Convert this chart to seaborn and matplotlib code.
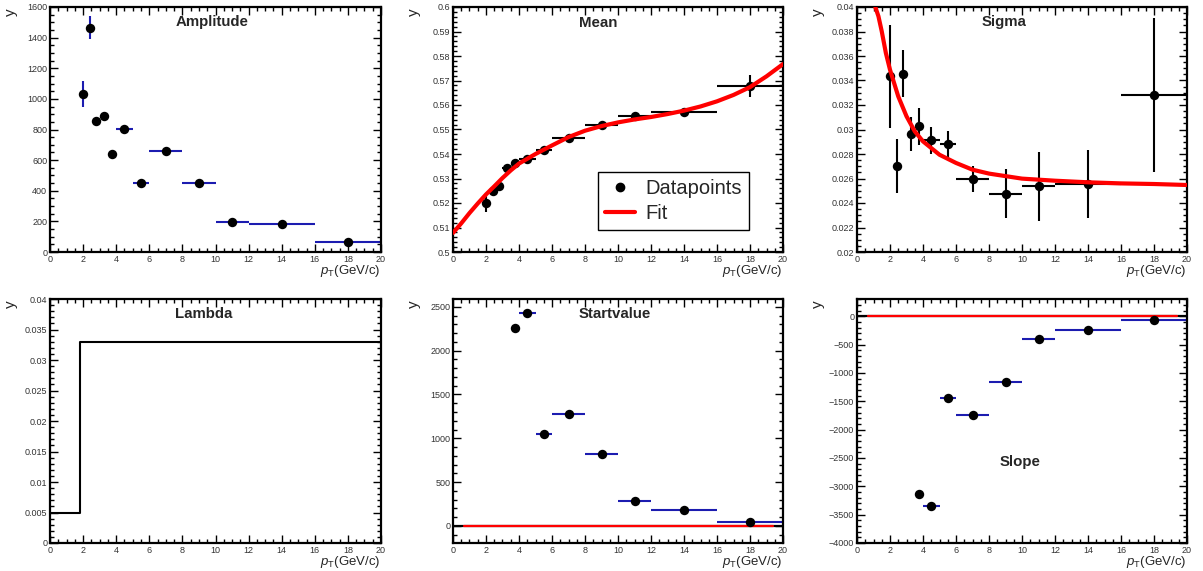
import matplotlib
matplotlib.use("Agg")
import matplotlib.pyplot as plt
import seaborn as sns
from matplotlib.lines import Line2D
from matplotlib.ticker import FixedLocator, FixedFormatter, MultipleLocator

# ---------------- data ----------------
pt = [2.0, 2.4, 2.8, 3.25, 3.75, 4.5, 5.5, 7.0, 9.0, 11.0, 14.0, 18.0]
pt_err = [0.2, 0.2, 0.2, 0.25, 0.25, 0.5, 0.5, 1.0, 1.0, 1.0, 2.0, 2.0]

amplitude = [1030, 1465, 858, 890, 642, 806, 450, 657, 450, 198, 186, 68]
amplitude_err = [85, 76, 25, 25, 15, 12, 10, 8, 8, 6, 6, 5]

mean = [0.5200, 0.5248, 0.5271, 0.5342, 0.5365, 0.5381, 0.5415, 0.5467, 0.5520, 0.5554, 0.5571, 0.5679]
mean_err = [0.0038, 0.0012, 0.0012, 0.0012, 0.0010, 0.0010, 0.0008, 0.0008, 0.0008, 0.0014, 0.0016, 0.0045]
mean_fit_x = [0, 0.5, 1, 1.5, 2, 2.5, 3, 3.5, 4, 5, 6, 7, 8, 9, 10, 11, 12, 13, 14, 15, 16, 17, 18, 19, 20]
mean_fit_y = [0.5078, 0.5117, 0.5159, 0.5198, 0.5235, 0.5268, 0.5302, 0.5333, 0.5361, 0.5400,
              0.5435, 0.5469, 0.5495, 0.5514, 0.5529, 0.5541, 0.5551, 0.5563, 0.5577, 0.5594,
              0.5615, 0.5641, 0.5673, 0.5717, 0.5767]

sigma = [0.03434, 0.02700, 0.03456, 0.02963, 0.03026, 0.02911, 0.02879, 0.02596, 0.02476, 0.02536, 0.02555, 0.03282]
sigma_err = [0.0042, 0.0022, 0.0019, 0.0014, 0.0015, 0.0011, 0.0011, 0.0011, 0.0020, 0.0028, 0.0028, 0.0063]
sigma_fit_x = [1.11, 1.3, 1.5, 1.75, 2, 2.5, 3, 3.5, 4, 5, 6, 7, 8, 10, 12, 14, 16, 18, 20]
sigma_fit_y = [0.0400, 0.03924, 0.03801, 0.03624, 0.03488, 0.0327, 0.03108, 0.02985, 0.02903, 0.02794,
               0.02727, 0.02672, 0.0264, 0.02599, 0.02582, 0.02569, 0.0256, 0.02555, 0.02547]

lambda_x = [0.0, 1.8, 20.0]
lambda_y = [0.005, 0.033, 0.033]

pt_late = [3.75, 4.5, 5.5, 7.0, 9.0, 11.0, 14.0, 18.0]
pt_late_err = [0.25, 0.5, 0.5, 1.0, 1.0, 1.0, 2.0, 2.0]
startvalue = [2264, 2428, 1046, 1275, 826, 285, 179, 50]
startvalue_err = [10, 10, 8, 8, 6, 5, 5, 4]
slope = [-3139, -3356, -1441, -1745, -1154, -392, -240, -64]
slope_err = [15, 12, 10, 8, 8, 6, 5, 5]

zero_fit_x = [0.65, 19.4]
zero_fit_y = [0.0, 0.0]

x_ticks = [0, 2, 4, 6, 8, 10, 12, 14, 16, 18, 20]
x_ticklabels = ["0", "2", "4", "6", "8", "10", "12", "14", "16", "18", "20"]
amp_ticks = [0, 200, 400, 600, 800, 1000, 1200, 1400, 1600]
amp_labels = ["0", "200", "400", "600", "800", "1000", "1200", "1400", "1600"]
mean_ticks = [0.5, 0.51, 0.52, 0.53, 0.54, 0.55, 0.56, 0.57, 0.58, 0.59, 0.6]
mean_labels = ["0.5", "0.51", "0.52", "0.53", "0.54", "0.55", "0.56", "0.57", "0.58", "0.59", "0.6"]
sigma_ticks = [0.02, 0.022, 0.024, 0.026, 0.028, 0.03, 0.032, 0.034, 0.036, 0.038, 0.04]
sigma_labels = ["0.02", "0.022", "0.024", "0.026", "0.028", "0.03", "0.032", "0.034", "0.036", "0.038", "0.04"]
lambda_ticks = [0, 0.005, 0.01, 0.015, 0.02, 0.025, 0.03, 0.035, 0.04]
lambda_labels = ["0", "0.005", "0.01", "0.015", "0.02", "0.025", "0.03", "0.035", "0.04"]
start_ticks = [0, 500, 1000, 1500, 2000, 2500]
start_labels = ["0", "500", "1000", "1500", "2000", "2500"]
slope_ticks = [0, -500, -1000, -1500, -2000, -2500, -3000, -3500, -4000]
slope_labels = ["0", "\u2212500", "\u22121000", "\u22121500", "\u22122000", "\u22122500",
                "\u22123000", "\u22123500", "\u22124000"]

titles = ["Amplitude", "Mean", "Sigma", "Lambda", "Startvalue", "Slope"]

# ---------------- style ----------------
sns.set_style("white")
plt.rcParams["font.family"] = ["Liberation Sans", "DejaVu Sans"]
plt.rcParams["mathtext.fontset"] = "custom"
plt.rcParams["mathtext.rm"] = "Liberation Sans"
plt.rcParams["mathtext.it"] = "Liberation Sans:italic"

W, H = 1203, 571
fig = plt.figure(figsize=(W / 100, H / 100), dpi=100)
fig.patch.set_facecolor("white")

cols = [(50, 381), (453, 783), (857, 1187)]
rows = [(7, 252), (299, 543)]

BLUE = "#1c1cb0"


def make_ax(r, c):
    l, rr = cols[c]
    t, b = rows[r]
    ax = fig.add_axes([l / W, 1 - b / H, (rr - l) / W, (b - t) / H])
    for s in ax.spines.values():
        s.set_linewidth(1.6)
        s.set_color("black")
        s.set_visible(True)
    ax.set_xlim(0, 20)
    ax.xaxis.set_major_locator(FixedLocator(x_ticks))
    ax.xaxis.set_major_formatter(FixedFormatter(x_ticklabels))
    ax.xaxis.set_minor_locator(MultipleLocator(0.5))
    ax.tick_params(which="both", direction="in", top=True, right=True, bottom=True, left=True,
                   color="black", width=1.0, labelsize=6.5, labelcolor="#333333")
    ax.tick_params(which="major", length=6)
    ax.tick_params(which="minor", length=3)
    ax.tick_params(axis="y", pad=2)
    ax.tick_params(axis="x", pad=2)
    ax.set_xlabel("")
    ax.set_ylabel("")
    # axis titles
    fig.text((l - 39) / W, 1 - (t + 5) / H, "y", rotation=90, ha="center", va="center", fontsize=11)
    fig.text(rr / W, 1 - (b + 11) / H, r"$p_{\mathrm{T}}$(GeV/c)", ha="right", va="top", fontsize=9.5)
    return ax


def set_y(ax, lo, hi, ticks, labels, minor):
    ax.set_ylim(lo, hi)
    ax.yaxis.set_major_locator(FixedLocator(ticks))
    ax.yaxis.set_major_formatter(FixedFormatter(labels))
    ax.yaxis.set_minor_locator(MultipleLocator(minor))


def points(ax, x, y, xerr, yerr, ecolor):
    ax.errorbar(x, y, xerr=xerr, yerr=yerr, fmt="none", ecolor=ecolor, elinewidth=1.5,
                capsize=0, zorder=2)
    sns.scatterplot(x=x, y=y, ax=ax, color="black", s=46, edgecolor="black", linewidth=0,
                    zorder=3, legend=False)


def title(ax, text, x, y):
    ax.text(x, y, text, transform=ax.transAxes, ha="center", va="center",
            fontsize=10.8, fontweight="bold")


# Amplitude
ax1 = make_ax(0, 0)
set_y(ax1, 0, 1600, amp_ticks, amp_labels, 50)
ax1.axhline(0, color="#b00000", lw=1.0, zorder=1)
points(ax1, pt, amplitude, pt_err, amplitude_err, BLUE)
title(ax1, titles[0], 0.489, 0.938)

# Mean
ax2 = make_ax(0, 1)
set_y(ax2, 0.5, 0.6, mean_ticks, mean_labels, 0.002)
points(ax2, pt, mean, pt_err, mean_err, "black")
sns.lineplot(x=mean_fit_x, y=mean_fit_y, ax=ax2, color="red", lw=3, estimator=None, zorder=4)
title(ax2, titles[1], 0.44, 0.935)
handles = [Line2D([], [], color="black", marker="o", markersize=6, linestyle="none"),
           Line2D([], [], color="red", lw=3)]
leg = ax2.legend(handles, ["Datapoints", "Fit"], loc="upper left",
                 bbox_to_anchor=(0.439, 0.327), fontsize=14.5, frameon=True, fancybox=False,
                 borderpad=0.35, handlelength=1.5, handletextpad=0.5, labelspacing=0.32,
                 borderaxespad=0)
leg.get_frame().set_edgecolor("black")
leg.get_frame().set_linewidth(1.0)
leg.get_frame().set_alpha(1.0)

# Sigma
ax3 = make_ax(0, 2)
set_y(ax3, 0.02, 0.04, sigma_ticks, sigma_labels, 0.0005)
ax3.axhline(0.02, color="#b00000", lw=1.0, zorder=1)
points(ax3, pt, sigma, pt_err, sigma_err, "black")
sns.lineplot(x=sigma_fit_x, y=sigma_fit_y, ax=ax3, color="red", lw=3, estimator=None, zorder=4)
title(ax3, titles[2], 0.445, 0.938)

# Lambda
ax4 = make_ax(1, 0)
set_y(ax4, 0, 0.04, lambda_ticks, lambda_labels, 0.001)
ax4.axhline(0, color="#b00000", lw=1.0, zorder=1)
sns.lineplot(x=lambda_x, y=lambda_y, ax=ax4, color="black", lw=1.5, estimator=None,
             drawstyle="steps-post")
title(ax4, titles[3], 0.465, 0.938)

# Startvalue
ax5 = make_ax(1, 1)
set_y(ax5, -195, 2590, start_ticks, start_labels, 100)
ax5.axhline(0, color="black", lw=1.6, zorder=1)
sns.lineplot(x=zero_fit_x, y=zero_fit_y, ax=ax5, color="red", lw=1.6, estimator=None, zorder=1.5)
points(ax5, pt_late, startvalue, pt_late_err, startvalue_err, BLUE)
title(ax5, titles[4], 0.49, 0.938)

# Slope
ax6 = make_ax(1, 2)
set_y(ax6, -4000, 305, slope_ticks, slope_labels, 100)
ax6.axhline(0, color="black", lw=1.6, zorder=1)
sns.lineplot(x=zero_fit_x, y=zero_fit_y, ax=ax6, color="red", lw=1.6, estimator=None, zorder=1.5)
points(ax6, pt_late, slope, pt_late_err, slope_err, BLUE)
title(ax6, titles[5], 0.494, 0.33)

for ax in [ax1, ax2, ax3, ax4, ax5, ax6]:
    ax.set_xlim(0, 20)

fig.savefig("out.png", dpi=100, facecolor="white")
